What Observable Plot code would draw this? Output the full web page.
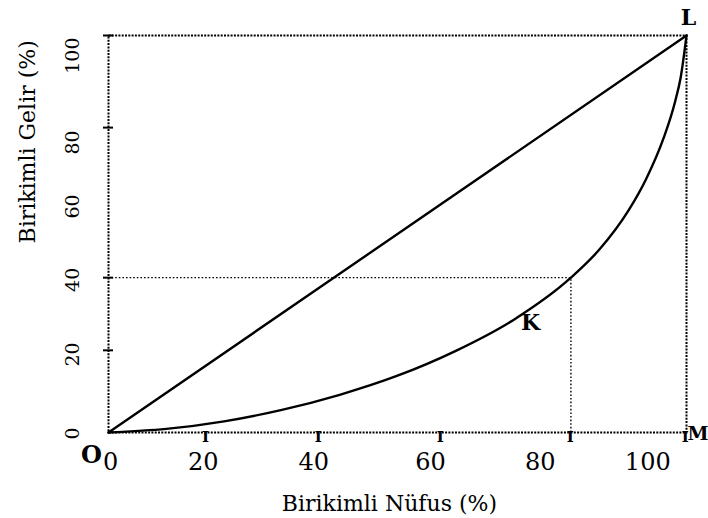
<!DOCTYPE html>
<html>
<head>
<meta charset="utf-8">
<script src="https://cdn.jsdelivr.net/npm/d3@7"></script>
<script src="https://cdn.jsdelivr.net/npm/@observablehq/plot@0.6"></script>
<style>
  html, body { margin: 0; padding: 0; background: #fff; }
</style>
</head>
<body>
<div id="chart"></div>
<script>
// Lorenz curve (cumulative population %, cumulative income %)
const popShare    = [0, 10, 20, 30, 40, 50, 60, 70, 80, 85, 90, 93, 96, 98, 99, 100];
const incomeShare = [0, 0.9, 2.8, 5.7, 9.5, 14.3, 20.5, 28.3, 39, 46.2, 56, 63.8, 74, 83.2, 89.5, 100];
// line of equality
const equalityX = [0, 100];
const equalityY = [0, 100];
// guide point K (80% of population, ~40% of income)
const guideX = 80;
const guideY = 39;
// x axis: tick marks and labels
const xTickAt = [16.8, 36.3, 57.4, 79.9, 99.8];
const xLabels = ["0", "20", "40", "60", "80", "100"];
const xLabelAt = [0.35, 16.4, 35.5, 55.7, 74.7, 93.3];
// y axis: tick marks and labels
const yTickAt = [20.7, 39, 76.8, 100];
const yLabels = ["0", "20", "40", "60", "80", "100"];
const yLabelAt = [1.3, 22.7, 41.5, 60, 76.1, 99.5];
// point letters
const letters = ["O", "K", "L", "M"];
const letterX = [0, 73, 100, 100];
const letterY = [0, 27.7, 100, 0];

const curve = popShare.map((x, i) => ({x, y: incomeShare[i]}));
const equality = equalityX.map((x, i) => ({x, y: equalityY[i]}));
const xLab = xLabels.map((t, i) => ({t, x: xLabelAt[i]}));
const yLab = yLabels.map((t, i) => ({t, y: yLabelAt[i]}));
const pts = letters.map((t, i) => ({t, x: letterX[i], y: letterY[i]}));

const serif = "DejaVu Serif";
const chart = Plot.plot({
  width: 708,
  height: 518,
  marginLeft: 108,
  marginRight: 22,
  marginTop: 35,
  marginBottom: 86,
  style: {fontFamily: serif, background: "white", color: "black"},
  x: {domain: [0, 100], axis: null},
  y: {domain: [0, 100], axis: null},
  marks: [
    Plot.frame({stroke: "black", strokeWidth: 2, strokeDasharray: "2,1.3"}),
    // guide lines
    Plot.ruleY([guideY], {x1: 0, x2: guideX, stroke: "black", strokeWidth: 1.4, strokeDasharray: "1.6,2"}),
    Plot.ruleX([guideX], {y1: 0, y2: guideY, stroke: "black", strokeWidth: 1.4, strokeDasharray: "1.6,2"}),
    // y tick marks crossing the axis
    Plot.axisY(yTickAt, {anchor: "left", tickSize: 10, dx: 5, tickFormat: () => "", label: null, strokeWidth: 2}),
    // x tick marks
    Plot.text(xTickAt, {x: d => d, y: 0, text: () => "I", frameAnchor: "bottom", lineAnchor: "top", dy: -1, fontSize: 15, fontWeight: "bold"}),
    // lines
    Plot.line(equality, {x: "x", y: "y", stroke: "black", strokeWidth: 2.4}),
    Plot.line(curve, {x: "x", y: "y", stroke: "black", strokeWidth: 2.4, curve: "monotone-x"}),
    // tick labels
    Plot.text(xLab, {x: "x", text: "t", frameAnchor: "bottom", dy: 30, fontSize: 24, lineAnchor: "middle"}),
    Plot.text(yLab, {y: "y", text: "t", frameAnchor: "left", dx: -36, rotate: -90, textAnchor: "end", lineAnchor: "middle", fontSize: 19}),
    // axis titles
    Plot.text(["Birikimli Nüfus (%)"], {x: 48.6, frameAnchor: "bottom", dy: 71, fontSize: 22, lineAnchor: "middle"}),
    Plot.text(["Birikimli Gelir (%)"], {y: 47.6, frameAnchor: "left", dx: -81, rotate: -90, fontSize: 22, lineAnchor: "middle"}),
    // point letters
    Plot.text(pts.filter(d => d.t === "O"), {x: "x", y: "y", text: "t", dx: -17, dy: 23, fontSize: 24, fontWeight: "bold"}),
    Plot.text(pts.filter(d => d.t === "K"), {x: "x", y: "y", text: "t", fontSize: 22, fontWeight: "bold"}),
    Plot.text(pts.filter(d => d.t === "L"), {x: "x", y: "y", text: "t", dx: 2, dy: -18, fontSize: 22, fontWeight: "bold"}),
    Plot.text(pts.filter(d => d.t === "M"), {x: "x", y: "y", text: "t", dx: 1, dy: 1, textAnchor: "start", fontSize: 19, fontWeight: "bold"})
  ]
});
document.getElementById("chart").appendChild(chart);
</script>
</body>
</html>
